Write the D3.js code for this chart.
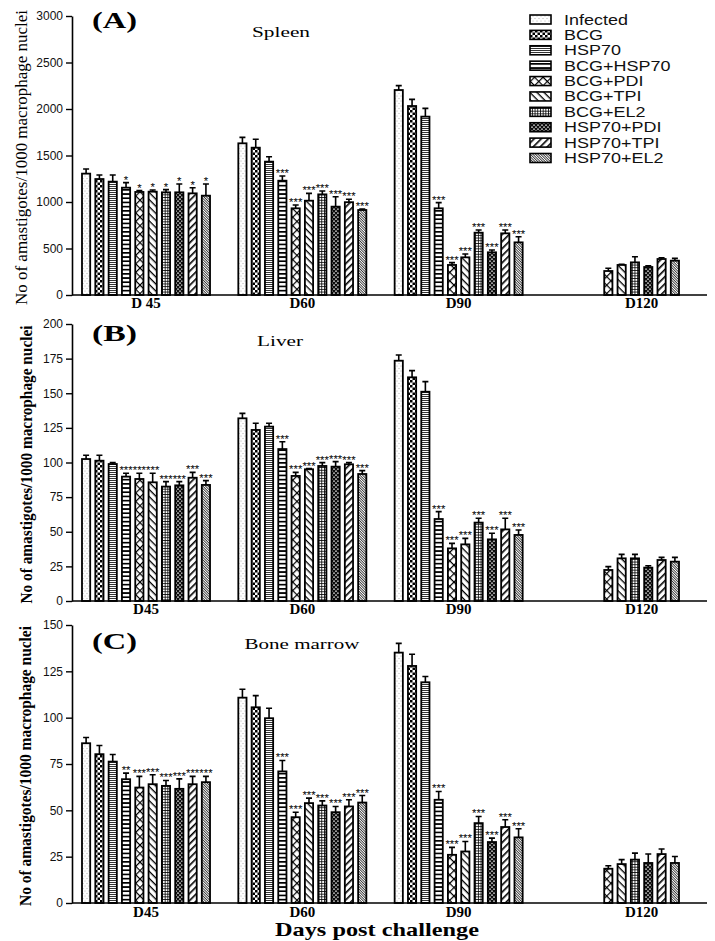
<!DOCTYPE html>
<html>
<head>
<meta charset="utf-8">
<script src="https://cdn.jsdelivr.net/npm/d3@7"></script>
<style>
  body { margin: 0; background: #fff; }
  svg { display: block; }
</style>
</head>
<body>
<div id="chart"></div>
<script>
// data
const groups = ['D45', 'D60', 'D90', 'D120'];
const series = ['Infected', 'BCG', 'HSP70', 'BCG+HSP70', 'BCG+PDI',
  'BCG+TPI', 'BCG+EL2', 'HSP70+PDI', 'HSP70+TPI', 'HSP70+EL2'];

const spleenLabels = ['D 45', 'D60', 'D90', 'D120'];
const spleenTicks = [0, 500, 1000, 1500, 2000, 2500, 3000];
const spleenMeans = [
  [1305, 1247, 1219, 1154, 1108, 1111, 1104, 1104, 1093, 1068],
  [1631, 1584, 1434, 1229, 932, 1014, 1082, 950, 998, 914],
  [2204, 2032, 1918, 932, 323, 405, 670, 459, 663, 566],
  [null, null, null, null, 258, 323, 351, 301, 387, 369]
];
const spleenErrors = [
  [50, 43, 71, 54, 14, 18, 29, 90, 61, 126],
  [64, 90, 53, 51, 36, 79, 36, 107, 31, 11],
  [47, 72, 89, 61, 25, 36, 29, 25, 36, 61],
  [null, null, null, null, 29, 7, 61, 14, 14, 25]
];
const spleenStars = [
  ['', '', '', '*', '*', '*', '*', '*', '*', '*'],
  ['', '', '', '***', '***', '***', '***', '***', '***', '***'],
  ['', '', '', '***', '***', '***', '***', '***', '***', '***'],
  ['', '', '', '', '', '', '', '', '', '']
];

const liverLabels = ['D45', 'D60', 'D90', 'D120'];
const liverTicks = [0, 25, 50, 75, 100, 125, 150, 175, 200];
const liverMeans = [
  [102.5, 101.3, 98.9, 89.8, 88.1, 85.7, 82.6, 83.5, 89.0, 83.8],
  [131.9, 123.5, 125.9, 109.7, 90.3, 95.1, 97.5, 97.0, 98.7, 91.7],
  [173.5, 161.5, 151.1, 59.2, 38.0, 40.9, 56.6, 44.5, 51.7, 47.7],
  [null, null, null, null, 22.4, 30.8, 30.8, 24.1, 29.6, 28.4]
];
const liverErrors = [
  [2.7, 3.9, 1.0, 2.4, 4.1, 6.5, 3.6, 2.7, 3.9, 3.1],
  [3.6, 4.8, 2.4, 5.3, 2.6, 0.5, 2.4, 3.6, 1.2, 2.4],
  [4.1, 4.8, 7.3, 5.3, 3.6, 4.3, 3.1, 4.4, 8.0, 3.6],
  [null, null, null, null, 2.4, 2.9, 2.9, 1.4, 1.9, 3.1]
];
const liverStars = [
  ['', '', '', '***', '***', '***', '***', '***', '***', '***'],
  ['', '', '', '***', '***', '***', '***', '***', '***', '***'],
  ['', '', '', '***', '***', '***', '***', '***', '***', '***'],
  ['', '', '', '', '', '', '', '', '', '']
];

const marrowLabels = ['D45', 'D60', 'D90', 'D120'];
const marrowTicks = [0, 25, 50, 75, 100, 125, 150];
const marrowMeans = [
  [86.2, 80.3, 76.3, 66.8, 62.3, 64.1, 63.2, 61.6, 64.1, 65.2],
  [110.8, 105.6, 99.7, 71.0, 46.3, 53.9, 52.6, 49.0, 52.1, 54.2],
  [135.1, 127.9, 119.1, 55.7, 26.0, 27.8, 43.1, 32.9, 41.0, 35.4],
  [null, null, null, null, 18.5, 21.0, 23.4, 21.6, 26.4, 21.6]
];
const marrowErrors = [
  [3.1, 4.7, 3.8, 3.3, 6.0, 5.1, 2.9, 5.4, 4.2, 3.1],
  [4.5, 6.3, 5.4, 5.9, 2.7, 2.7, 2.5, 3.1, 3.6, 3.8],
  [5.0, 6.3, 3.1, 4.5, 4.0, 5.4, 3.6, 2.1, 3.9, 4.7],
  [null, null, null, null, 1.6, 2.4, 3.5, 4.8, 2.7, 3.5]
];
const marrowStars = [
  ['', '', '', '**', '***', '***', '***', '***', '***', '***'],
  ['', '', '', '***', '***', '***', '***', '***', '***', '***'],
  ['', '', '', '***', '***', '***', '***', '***', '***', '***'],
  ['', '', '', '', '', '', '', '', '', '']
];

const yTitle = 'No of amastigotes/1000 macrophage nuclei';
const xTitle = 'Days post challenge';

// layout
const width = 715;
const height = 941;
const serif = '"Liberation Serif", "Times New Roman", serif';
const sans = '"Liberation Sans", Arial, sans-serif';
const axisLeftX = 72;
const axisRightX = 707;

const panels = [
  {means: spleenMeans, errors: spleenErrors, stars: spleenStars, ticks: spleenTicks,
    labels: spleenLabels, tag: '(A)', title: 'Spleen', top: 16, bottom: 295,
    tagY: 28, titleX: 281, titleY: 37, titleLen: 58, labelY: 308,
    yTitleX: 27, yTitleLen: 295, yTitleBold: false},
  {means: liverMeans, errors: liverErrors, stars: liverStars, ticks: liverTicks,
    labels: liverLabels, tag: '(B)', title: 'Liver', top: 324, bottom: 601,
    tagY: 341, titleX: 280, titleY: 346, titleLen: 46, labelY: 614,
    yTitleX: 32, yTitleLen: 278, yTitleBold: true},
  {means: marrowMeans, errors: marrowErrors, stars: marrowStars, ticks: marrowTicks,
    labels: marrowLabels, tag: '(C)', title: 'Bone marrow', top: 625, bottom: 903,
    tagY: 649, titleX: 302, titleY: 649, titleLen: 115, labelY: 917,
    yTitleX: 31, yTitleLen: 280, yTitleBold: true}
];

const svg = d3.select('#chart').append('svg')
    .attr('width', width)
    .attr('height', height);

// patterns
const defs = svg.append('defs');
const pattern = (id, w, h, rot, bg = '#fff') => {
  const p = defs.append('pattern')
      .attr('id', id)
      .attr('patternUnits', 'userSpaceOnUse')
      .attr('width', w)
      .attr('height', h);
  if (rot) p.attr('patternTransform', `rotate(${rot})`);
  p.append('rect').attr('width', w).attr('height', h).attr('fill', bg);
  return p;
};
const blk = (p, x, y, w, h, fill = '#000') =>
  p.append('rect').attr('x', x).attr('y', y).attr('width', w).attr('height', h).attr('fill', fill);

let p = pattern('p0', 4, 5);
p.append('circle').attr('cx', 1).attr('cy', 1).attr('r', 0.45).attr('fill', '#666');
p.append('circle').attr('cx', 3).attr('cy', 3.5).attr('r', 0.45).attr('fill', '#666');
p = pattern('p1', 5, 5);
blk(p, 0, 0, 2.5, 2.5);
blk(p, 2.5, 2.5, 2.5, 2.5);
p = pattern('p2', 4, 2);
blk(p, 0, 0, 4, 0.8);
p = pattern('p3', 4, 4.2);
blk(p, 0, 0, 4, 1.7);
p = pattern('p4', 6, 6, 45);
blk(p, 0, 0, 6, 1.2);
blk(p, 0, 0, 1.2, 6);
p = pattern('p5', 5, 5, 45);
blk(p, 0, 0, 5, 1.3);
p = pattern('p6', 2.7, 2.7);
blk(p, 0, 0, 2.7, 0.8);
blk(p, 0, 0, 0.8, 2.7);
p = pattern('p7', 4, 4, 0, '#000');
blk(p, 0.9, 0.6, 2.2, 1, '#fff');
blk(p, 2.9, 2.6, 2.2, 1, '#fff');
blk(p, -1.1, 2.6, 2.2, 1, '#fff');
p = pattern('p8', 5, 5, -45);
blk(p, 0, 0, 5, 1.6);
p = pattern('p9', 1.8, 1.8, 45);
blk(p, 0, 0, 1.8, 0.7);

const fillOf = (i) => `url(#p${i})`;

// scales shared by panels
const x0 = d3.scaleBand().domain(groups).range([82, 679]).paddingInner(0.181);
const x1 = d3.scaleBand().domain(series).range([0, x0.bandwidth()]).paddingInner(0.384);

panels.forEach((cfg) => {
  const y = d3.scaleLinear()
      .domain([0, d3.max(cfg.ticks)])
      .range([cfg.bottom, cfg.top]);

  const g = svg.append('g');

  const rows = [];
  groups.forEach((grp, gi) => {
    series.forEach((s, si) => {
      const v = cfg.means[gi][si];
      if (v == null) return;
      rows.push({grp, s, si, v, e: cfg.errors[gi][si], star: cfg.stars[gi][si]});
    });
  });
  const cx = (d) => x0(d.grp) + x1(d.s) + x1.bandwidth() / 2;

  // error bars
  g.append('g').selectAll('path')
      .data(rows)
      .join('path')
      .attr('d', (d) => {
        const c = cx(d);
        const t = y(d.v + d.e);
        return `M${c},${y(d.v)}V${t}M${c - 3},${t}H${c + 3}`;
      })
      .attr('stroke', '#000')
      .attr('stroke-width', 1.6)
      .attr('fill', 'none');

  // bars
  g.append('g').selectAll('rect')
      .data(rows)
      .join('rect')
      .attr('x', (d) => x0(d.grp) + x1(d.s))
      .attr('y', (d) => y(d.v))
      .attr('width', x1.bandwidth())
      .attr('height', (d) => y(0) - y(d.v))
      .attr('fill', (d) => fillOf(d.si))
      .attr('stroke', '#000')
      .attr('stroke-width', 1.8);

  // significance
  g.append('g').selectAll('text')
      .data(rows.filter((d) => d.star))
      .join('text')
      .attr('transform', (d) => `translate(${cx(d)},${y(d.v + d.e) + 1}) scale(1.08,1)`)
      .attr('text-anchor', 'middle')
      .attr('font-family', sans)
      .attr('font-size', 10.5)
      .attr('fill', '#000')
      .text((d) => d.star);

  // y axis
  const yAxis = g.append('g')
      .attr('transform', `translate(${axisLeftX},0)`)
      .call(d3.axisLeft(y)
          .tickValues(cfg.ticks)
          .tickFormat(d3.format('d'))
          .tickSize(6)
          .tickSizeOuter(0)
          .tickPadding(3));
  yAxis.select('.domain').attr('stroke-width', 1.6);
  yAxis.selectAll('.tick line').attr('stroke-width', 1.4);
  yAxis.selectAll('.tick text')
      .attr('font-family', sans)
      .attr('font-size', 12)
      .attr('fill', '#111');

  // x axis line and group labels
  g.append('line')
      .attr('x1', axisLeftX)
      .attr('x2', axisRightX)
      .attr('y1', y(0))
      .attr('y2', y(0))
      .attr('stroke', '#000')
      .attr('stroke-width', 1.6);

  g.append('g').selectAll('text')
      .data(groups)
      .join('text')
      .attr('x', (grp) => d3.mean(rows.filter((d) => d.grp === grp), cx))
      .attr('y', cfg.labelY)
      .attr('text-anchor', 'middle')
      .attr('font-family', serif)
      .attr('font-weight', 'bold')
      .attr('font-size', 15)
      .text((grp, i) => cfg.labels[i]);

  // tag and title
  g.append('text')
      .attr('x', 92)
      .attr('y', cfg.tagY)
      .attr('font-family', serif)
      .attr('font-weight', 'bold')
      .attr('font-size', 24)
      .attr('textLength', 45)
      .attr('lengthAdjust', 'spacingAndGlyphs')
      .text(cfg.tag);

  g.append('text')
      .attr('x', cfg.titleX - cfg.titleLen / 2)
      .attr('y', cfg.titleY)
      .attr('font-family', serif)
      .attr('font-size', 15)
      .attr('textLength', cfg.titleLen)
      .attr('lengthAdjust', 'spacingAndGlyphs')
      .text(cfg.title);

  // y title
  g.append('text')
      .attr('transform', `translate(${cfg.yTitleX},${(cfg.top + cfg.bottom) / 2 + 2}) rotate(-90)`)
      .attr('x', -cfg.yTitleLen / 2)
      .attr('font-family', serif)
      .attr('font-weight', cfg.yTitleBold ? 'bold' : 'normal')
      .attr('font-size', 17)
      .attr('textLength', cfg.yTitleLen)
      .attr('lengthAdjust', 'spacingAndGlyphs')
      .text(yTitle);
});

// x title
svg.append('text')
    .attr('x', 275)
    .attr('y', 936)
    .attr('font-family', serif)
    .attr('font-weight', 'bold')
    .attr('font-size', 19)
    .attr('textLength', 204)
    .attr('lengthAdjust', 'spacingAndGlyphs')
    .text(xTitle);

// legend
const legend = svg.append('g');
const ly = d3.scaleLinear().domain([0, 9]).range([19.5, 158]);
legend.selectAll('rect')
    .data(series)
    .join('rect')
    .attr('x', 530)
    .attr('y', (d, i) => ly(i) - 4.5)
    .attr('width', 21)
    .attr('height', 9)
    .attr('fill', (d, i) => fillOf(i))
    .attr('stroke', '#000')
    .attr('stroke-width', 1.6);
legend.selectAll('text')
    .data(series)
    .join('text')
    .attr('transform', (d, i) => `translate(564,${ly(i) + 5}) scale(1.24,1)`)
    .attr('font-family', sans)
    .attr('font-size', 14.5)
    .attr('fill', '#111')
    .text((d) => d);
</script>
</body>
</html>
